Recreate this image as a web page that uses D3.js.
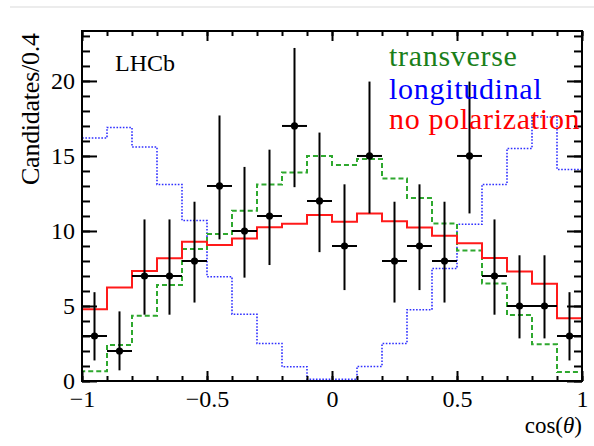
<!DOCTYPE html>
<html>
<head>
<meta charset="utf-8">
<script src="https://cdn.jsdelivr.net/npm/d3@7"></script>
<style>
  body { margin: 0; background: #fff; }
  svg text { font-family: "Liberation Serif", "Times New Roman", serif; }
</style>
</head>
<body>
<div id="plot"></div>
<script>
// bin centres of cos(theta), width 0.1
var binCenters = [-0.95, -0.85, -0.75, -0.65, -0.55, -0.45, -0.35, -0.25, -0.15, -0.05,
                   0.05,  0.15,  0.25,  0.35,  0.45,  0.55,  0.65,  0.75,  0.85,  0.95];
var binWidth = 0.1;

// observed candidates with asymmetric (Poisson) error bars
var counts  = [3, 2, 7, 7, 8, 13, 10, 11, 17, 12, 9, 15, 8, 9, 8, 15, 7, 5, 5, 3];
var errLow  = [1.37, 0.71, 4.42, 4.42, 5.23, 9.44, 6.89, 7.73, 12.92, 8.59, 6.06, 11.17, 5.23, 6.06, 5.23, 11.17, 4.42, 2.84, 2.84, 1.37];
var errHigh = [5.92, 4.64, 10.77, 10.77, 11.95, 17.70, 14.27, 15.42, 22.20, 16.56, 13.11, 19.96, 11.95, 13.11, 11.95, 19.96, 10.77, 8.38, 8.38, 5.92];

// expectations
var transverse   = [0.65, 2.4, 4.35, 6.4, 8.8, 9.8, 11.35, 13.1, 13.9, 15.0, 14.4, 14.8, 13.5, 12.2, 10.5, 8.7, 6.5, 4.4, 2.45, 0.6];
var longitudinal = [16.2, 16.9, 15.6, 13.1, 10.7, 6.95, 4.45, 2.5, 0.95, 0.12, 0.12, 0.97, 2.5, 4.75, 7.5, 10.45, 13.1, 15.5, 17.6, 14.1];
var noPol        = [4.78, 6.24, 7.33, 8.18, 9.29, 9.07, 9.5, 10.25, 10.48, 11.07, 10.62, 11.16, 10.65, 10.24, 9.68, 9.18, 8.2, 7.3, 6.48, 4.18];

var xMajor = [-1, -0.5, 0, 0.5, 1];
var xMajorLabels = ["\u22121", "\u22120.5", "0", "0.5", "1"];
var yMajor = [0, 5, 10, 15, 20];
var yMajorLabels = ["0", "5", "10", "15", "20"];

var W = 594, H = 446;
var margin = {top: 31, right: 12, bottom: 65, left: 82};
var width = W - margin.left - margin.right,
    height = H - margin.top - margin.bottom;

var svg = d3.select("#plot").append("svg")
    .attr("width", W)
    .attr("height", H);

// faint rule along the top of the page
svg.append("line")
    .attr("x1", 10).attr("x2", W)
    .attr("y1", 7).attr("y2", 7)
    .attr("stroke", "#ececec")
    .attr("stroke-width", 2);

var g = svg.append("g")
    .attr("transform", "translate(" + margin.left + "," + margin.top + ")");

var x = d3.scaleLinear().domain([-1, 1]).range([0, width]);
var y = d3.scaleLinear().domain([0, 23.33]).range([height, 0]);

var xMinor = d3.range(-10, 11).map(function (d) { return d / 10; });
var yMinor = d3.range(0, 24);

function stepPoints(values) {
    var pts = [[binCenters[0] - binWidth / 2, 0]];
    values.forEach(function (v, i) {
        pts.push([binCenters[i] - binWidth / 2, v]);
        pts.push([binCenters[i] + binWidth / 2, v]);
    });
    pts.push([binCenters[binCenters.length - 1] + binWidth / 2, 0]);
    return pts;
}

var line = d3.line()
    .x(function (d) { return x(d[0]); })
    .y(function (d) { return y(d[1]); });

g.append("path")
    .datum(stepPoints(longitudinal))
    .attr("d", line)
    .attr("fill", "none")
    .attr("stroke", "#3030ff")
    .attr("stroke-width", 1.6)
    .attr("stroke-dasharray", "1.6,1.6");

g.append("path")
    .datum(stepPoints(transverse))
    .attr("d", line)
    .attr("fill", "none")
    .attr("stroke", "#2ea82e")
    .attr("stroke-width", 2)
    .attr("stroke-dasharray", "5,3");

g.append("path")
    .datum(stepPoints(noPol))
    .attr("d", line)
    .attr("fill", "none")
    .attr("stroke", "#ff1a1a")
    .attr("stroke-width", 2);

// data points
var pts = g.append("g").attr("class", "data");
binCenters.forEach(function (c, i) {
    pts.append("line")
        .attr("x1", x(c)).attr("x2", x(c))
        .attr("y1", y(errLow[i])).attr("y2", y(errHigh[i]))
        .attr("stroke", "#000").attr("stroke-width", 2);
    pts.append("line")
        .attr("x1", x(c - binWidth / 2)).attr("x2", x(c + binWidth / 2))
        .attr("y1", y(counts[i])).attr("y2", y(counts[i]))
        .attr("stroke", "#000").attr("stroke-width", 2);
    pts.append("circle")
        .attr("cx", x(c)).attr("cy", y(counts[i]))
        .attr("r", 3.6)
        .attr("fill", "#000");
});

// axes, ticks pointing inwards on all four sides
function styleAxis(sel) {
    sel.select(".domain").remove();
    sel.selectAll("line").attr("stroke", "#000").attr("stroke-width", 2);
    sel.selectAll("text").attr("font-size", 24).attr("fill", "#000")
        .style("font-family", "Liberation Serif, serif");
}

g.append("g").attr("transform", "translate(0," + height + ")")
    .call(d3.axisBottom(x).tickValues(xMinor).tickSize(-5).tickFormat(""))
    .call(styleAxis);
g.append("g").attr("transform", "translate(0," + height + ")")
    .call(d3.axisBottom(x).tickValues(xMajor).tickSize(-10).tickPadding(9)
        .tickFormat(function (d, i) { return xMajorLabels[i]; }))
    .call(styleAxis);
g.append("g")
    .call(d3.axisTop(x).tickValues(xMinor).tickSize(-5).tickFormat(""))
    .call(styleAxis);
g.append("g")
    .call(d3.axisTop(x).tickValues(xMajor).tickSize(-10).tickFormat(""))
    .call(styleAxis);

g.append("g")
    .call(d3.axisLeft(y).tickValues(yMinor).tickSize(-8).tickFormat(""))
    .call(styleAxis);
g.append("g")
    .call(d3.axisLeft(y).tickValues(yMajor).tickSize(-15).tickPadding(7)
        .tickFormat(function (d, i) { return yMajorLabels[i]; }))
    .call(styleAxis);
g.append("g").attr("transform", "translate(" + width + ",0)")
    .call(d3.axisRight(y).tickValues(yMinor).tickSize(-8).tickFormat(""))
    .call(styleAxis);
g.append("g").attr("transform", "translate(" + width + ",0)")
    .call(d3.axisRight(y).tickValues(yMajor).tickSize(-15).tickFormat(""))
    .call(styleAxis);

// frame
g.append("rect")
    .attr("width", width).attr("height", height)
    .attr("fill", "none")
    .attr("stroke", "#000")
    .attr("stroke-width", 2);

// labels
svg.append("text")
    .attr("transform", "translate(39,109) rotate(-90)")
    .attr("text-anchor", "middle")
    .attr("font-size", 26)
    .attr("textLength", 152)
    .attr("lengthAdjust", "spacing")
    .text("Candidates/0.4");

var xl = svg.append("text")
    .attr("x", margin.left + width)
    .attr("y", 433)
    .attr("text-anchor", "end")
    .attr("font-size", 23);
xl.append("tspan").text("cos(");
xl.append("tspan").attr("font-style", "italic").text("\u03b8");
xl.append("tspan").text(")");

svg.append("text")
    .attr("x", 115).attr("y", 71)
    .attr("font-size", 24)
    .text("LHCb");

var legend = [
    {label: "transverse", color: "#1a7f1a", y: 66},
    {label: "longitudinal", color: "#0000ff", y: 99},
    {label: "no polarization", color: "#ff0000", y: 129}
];
legend.forEach(function (d) {
    svg.append("text")
        .attr("x", 389).attr("y", d.y)
        .attr("font-size", 30)
        .attr("letter-spacing", 0.7)
        .attr("fill", d.color)
        .text(d.label);
});
</script>
</body>
</html>
